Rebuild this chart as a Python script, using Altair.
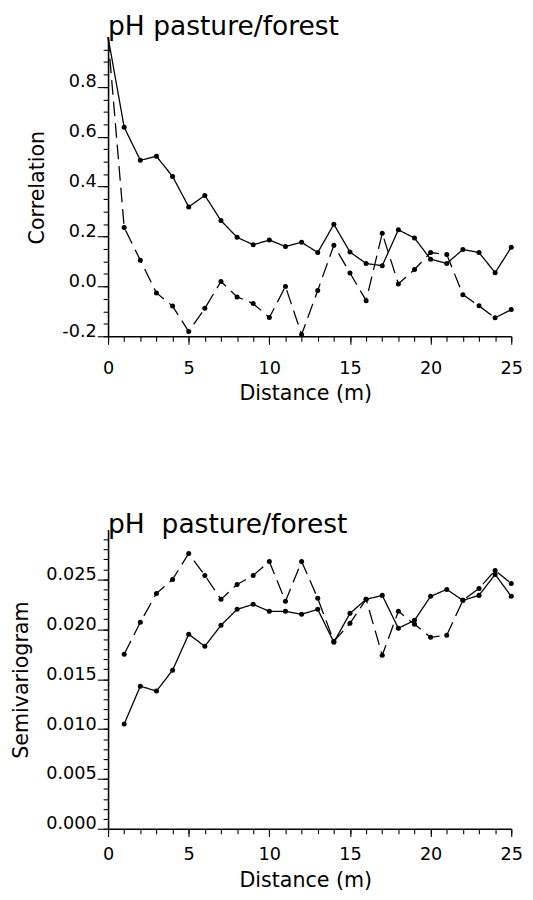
import altair as alt
import pandas as pd

# ---------------- data ----------------
distance = list(range(0, 26))
corr_solid = [1.0, 0.638, 0.506, 0.522, 0.441, 0.319, 0.365, 0.264, 0.197, 0.167,
              0.186, 0.160, 0.177, 0.136, 0.249, 0.138, 0.092, 0.083, 0.227, 0.194,
              0.109, 0.092, 0.148, 0.136, 0.055, 0.157]
corr_dashed = [1.0, 0.236, 0.105, -0.026, -0.079, -0.181, -0.088, 0.020, -0.042, -0.069,
               -0.125, 0.0, -0.193, -0.016, 0.165, 0.054, -0.057, 0.213, 0.010, 0.068,
               0.136, 0.128, -0.033, -0.078, -0.126, -0.093]

lag = list(range(1, 26))
semi_solid = [0.0105, 0.0143, 0.0138, 0.0159, 0.0195, 0.0183, 0.0204, 0.0220, 0.0225, 0.0218,
              0.0218, 0.0215, 0.0220, 0.0187, 0.0216, 0.0230, 0.0234, 0.0201, 0.0209, 0.0233,
              0.0240, 0.0229, 0.0234, 0.0255, 0.0233]
semi_dashed = [0.0175, 0.0207, 0.0236, 0.0250, 0.0276, 0.0254, 0.0230, 0.0245, 0.0254, 0.0268,
               0.0228, 0.0268, 0.0231, 0.0188, 0.0206, 0.0230, 0.0174, 0.0218, 0.0205, 0.0192,
               0.0194, 0.0229, 0.0241, 0.0259, 0.0246]

x_major = [0, 5, 10, 15, 20, 25]
x_minor = list(range(0, 26))
corr_major = [-0.2, 0.0, 0.2, 0.4, 0.6, 0.8]
corr_minor = [round(-0.2 + 0.05 * i, 2) for i in range(24)]
semi_major = [0.0, 0.005, 0.010, 0.015, 0.020, 0.025]
semi_minor = [round(0.001 * i, 3) for i in range(30)]

series_names = ["solid", "dashed"]
titles = ["pH pasture/forest", "pH\u00a0 pasture/forest"]

corr_df = pd.DataFrame({
    "distance": distance + distance,
    "value": corr_solid + corr_dashed,
    "series": [series_names[0]] * len(distance) + [series_names[1]] * len(distance),
})
semi_df = pd.DataFrame({
    "distance": lag + lag,
    "value": semi_solid + semi_dashed,
    "series": [series_names[0]] * len(lag) + [series_names[1]] * len(lag),
})

FONT = "DejaVu Sans"
W, H = 411, 305


def panel(df, ydomain, ymajor, yminor, yfmt, ytitle, ytitle_x, title, title_y,
          xlabel_pad, xtitle_y):
    xs = alt.Scale(domain=[0, 25], nice=False, zero=False)
    ys = alt.Scale(domain=ydomain, nice=False, zero=False)
    label_expr = "replace(format(datum.value, '%s'), '\u2212', '-')" % yfmt

    line = alt.Chart(df).mark_line(color="black", strokeWidth=1.3).encode(
        x=alt.X("distance:Q", scale=xs, axis=alt.Axis(
            orient="bottom", values=x_major, tickSize=8, labelPadding=xlabel_pad,
            labelFlush=False, labelOverlap=False, grid=False,
            title="Distance (m)", titleX=201, titleY=xtitle_y,
            titleBaseline="alphabetic", titleAlign="center")),
        y=alt.Y("value:Q", scale=ys, axis=alt.Axis(
            orient="left", values=ymajor, tickSize=11, labelPadding=1,
            labelBaseline="alphabetic", labelExpr=label_expr,
            labelFlush=False, labelOverlap=False, grid=False,
            title=ytitle, titleAngle=270, titleX=ytitle_x, titleY=153,
            titleAlign="center", titleBaseline="middle")),
        strokeDash=alt.StrokeDash("series:N", scale=alt.Scale(
            domain=series_names, range=[[1, 0], [15, 7]]), legend=None),
    )
    pts = alt.Chart(df).transform_filter("datum.distance > 0").mark_circle(
        color="black", size=26, opacity=1).encode(
        x=alt.X("distance:Q", scale=xs, axis=alt.Axis(
            orient="bottom", values=x_minor, tickSize=5, labels=False,
            domain=False, grid=False, title=None)),
        y=alt.Y("value:Q", scale=ys, axis=alt.Axis(
            orient="left", values=yminor, tickSize=5, labels=False,
            domain=False, grid=False, title=None)),
    )
    head = alt.Chart(pd.DataFrame({"t": [title]})).mark_text(
        font=FONT, fontSize=27, color="black", align="left", baseline="top"
    ).encode(text="t:N", x=alt.value(0), y=alt.value(title_y))
    return alt.layer(line, pts, head).resolve_axis(
        x="independent", y="independent").properties(width=W, height=H)


top = panel(corr_df, [-0.2, 1.0], corr_major, corr_minor, ".1f", "Correlation", -72,
            titles[0], -23.5, 16, 64)
bottom = panel(semi_df, [0.0, 0.030], semi_major, semi_minor, ".3f", "Semivariogram", -88,
               titles[1], -17.5, 9, 59)

chart = alt.vconcat(top, bottom, spacing=110).properties(
    padding={"left": 3, "top": -4, "right": 2, "bottom": 2}
).configure_view(stroke=None).configure_axis(
    labelFont=FONT, labelFontSize=18, labelColor="black",
    titleFont=FONT, titleFontSize=21, titleFontWeight="normal", titleColor="black",
    domainColor="black", domainWidth=1.6, tickColor="black", tickWidth=1.1,
)

chart.save("out.html", embed_options={"renderer": "svg", "actions": False})
